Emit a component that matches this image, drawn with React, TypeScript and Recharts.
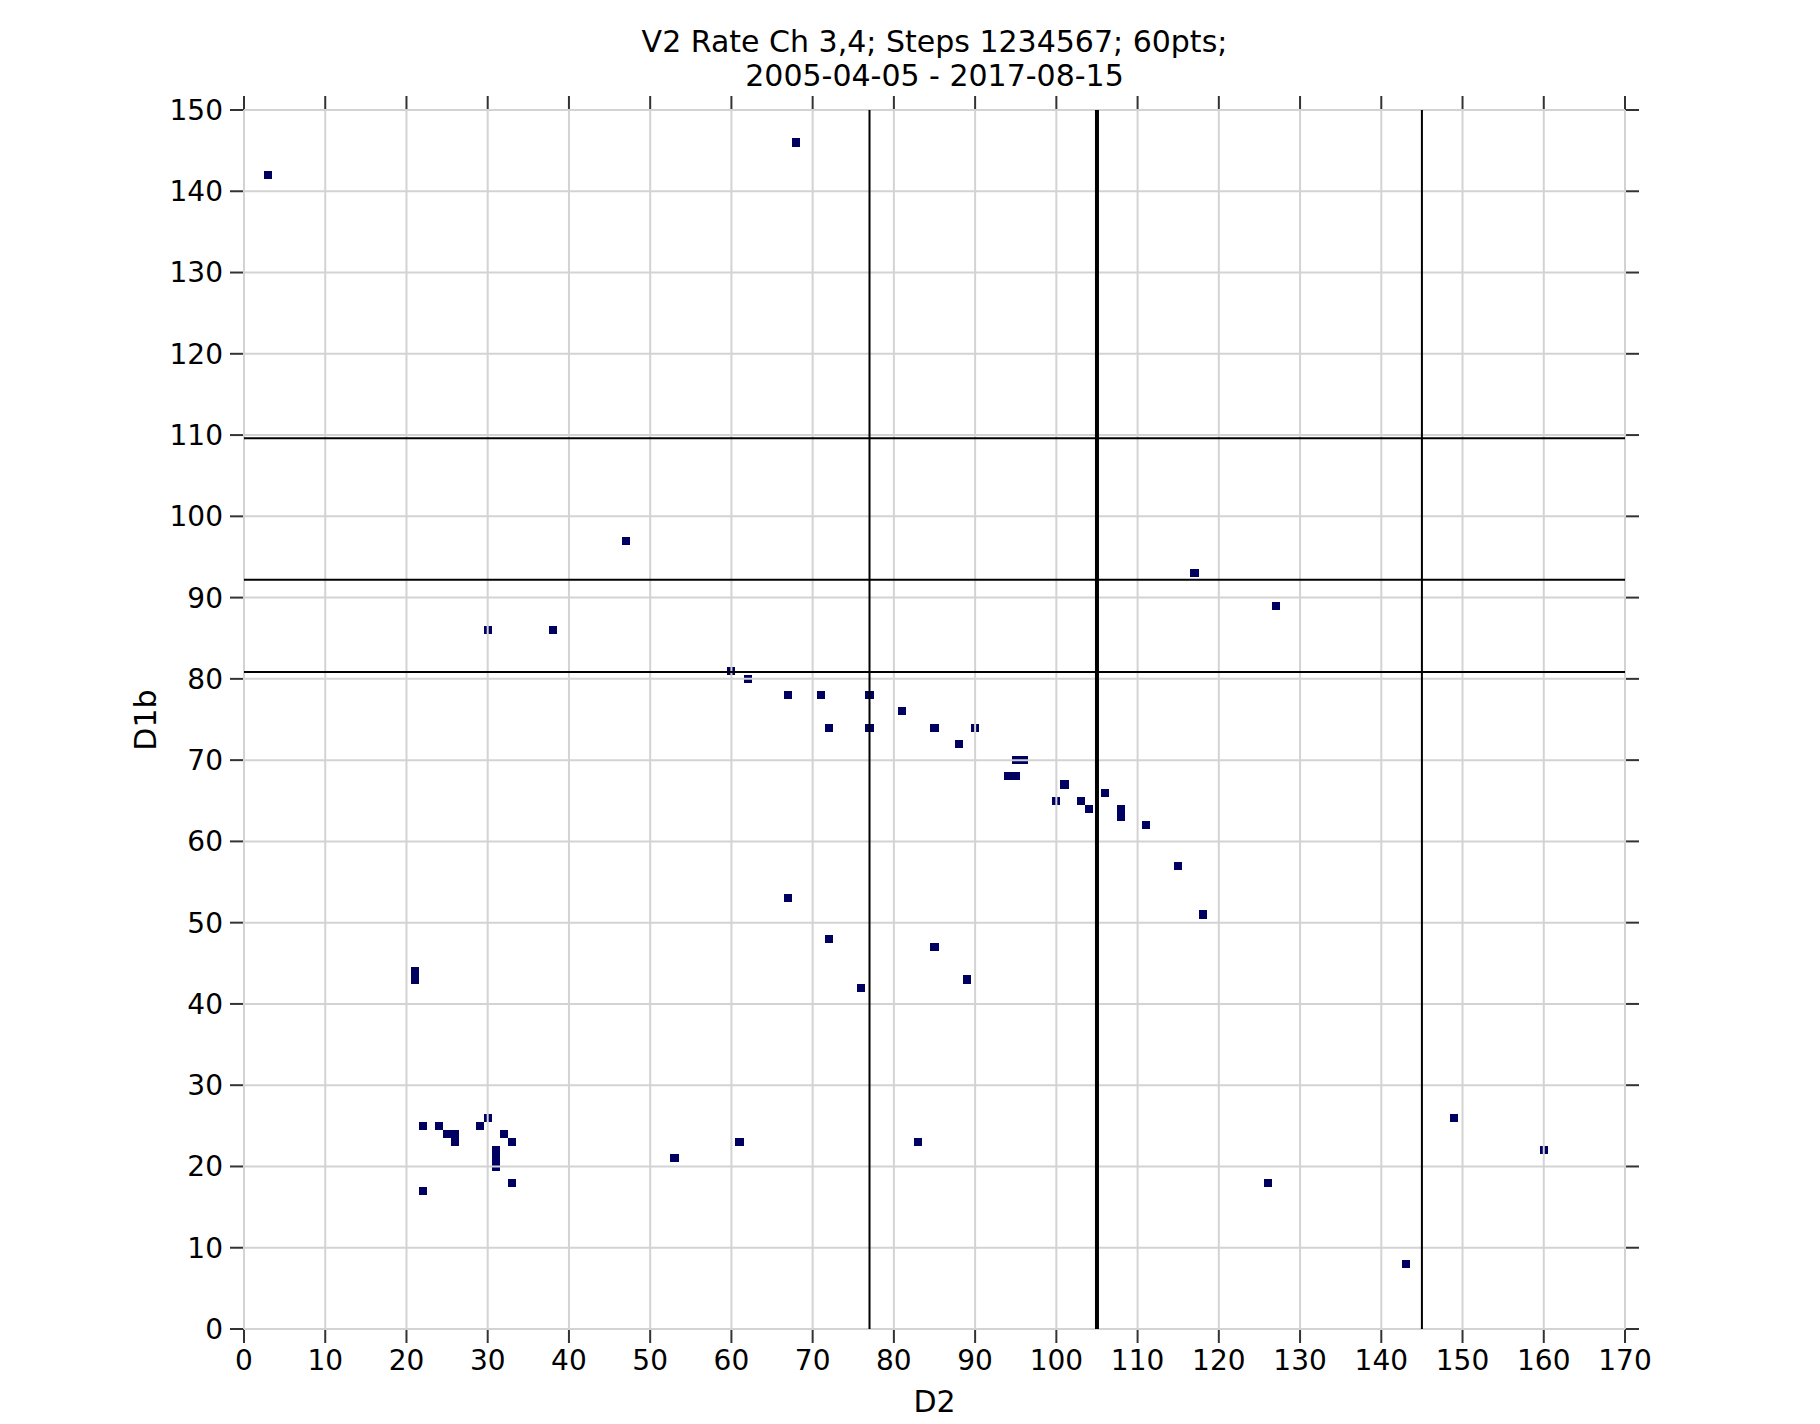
import {
  CartesianGrid,
  ReferenceLine,
  Scatter,
  ScatterChart,
  XAxis,
  YAxis,
} from 'recharts';

const d2Values = [
  3, 68, 47, 30, 38, 117, 127,
  60, 62, 67, 71, 77, 81, 72, 77, 85, 90, 88, 95, 96, 94, 95, 101, 106, 100, 103, 104, 108, 108, 111, 115, 118,
  67, 72, 85, 89, 76, 21, 21,
  22, 24, 29, 30, 25, 26, 32, 26, 33, 31, 31, 31, 33, 22,
  53, 61, 83, 126, 143, 149, 160,
];
const d1bValues = [
  142, 146, 97, 86, 86, 93, 89,
  81, 80, 78, 78, 78, 76, 74, 74, 74, 74, 72, 70, 70, 68, 68, 67, 66, 65, 65, 64, 64, 63, 62, 57, 51,
  53, 48, 47, 43, 42, 44, 43,
  25, 25, 25, 26, 24, 24, 24, 23, 23, 22, 21, 20, 18, 17,
  21, 23, 23, 18, 8, 26, 22,
];

const xTicks = [0, 10, 20, 30, 40, 50, 60, 70, 80, 90, 100, 110, 120, 130, 140, 150, 160, 170];
const yTicks = [0, 10, 20, 30, 40, 50, 60, 70, 80, 90, 100, 110, 120, 130, 140, 150];

const thinVLines = [77, 145];
const thickVLines = [105];
const hLines = [109.6, 92.2, 80.85];

const points = d2Values.map((x, i) => ({ x, y: d1bValues[i] }));

const W = 1820;
const H = 1424;
const PLOT_LEFT = 244;
const PLOT_RIGHT = 1625;
const PLOT_TOP = 110;
const PLOT_BOTTOM = 1329;
const X_MAX = 170;
const Y_MAX = 150;
const CELL_W = (PLOT_RIGHT - PLOT_LEFT) / X_MAX;
const CELL_H = (PLOT_BOTTOM - PLOT_TOP) / Y_MAX;

const FONT = 'DejaVu Sans';
const AXIS = '#333333';
const tickStyle = { fill: '#000', fontSize: 28, fontFamily: FONT };

const Cell = (props: any) => (
  <rect
    x={props.cx - CELL_W / 2}
    y={props.cy - CELL_H / 2}
    width={CELL_W}
    height={CELL_H}
    fill="#000060"
    shapeRendering="crispEdges"
  />
);

export default function App() {
  return (
    <div style={{ position: 'absolute', left: 0, top: 0, width: W, height: H, background: '#fff', fontFamily: FONT }}>
      <div
        style={{
          position: 'absolute',
          left: (PLOT_LEFT + PLOT_RIGHT) / 2 - 500,
          top: 25,
          width: 1000,
          textAlign: 'center',
          fontSize: 30,
          lineHeight: '34px',
          color: '#000',
        }}
      >
        V2 Rate Ch 3,4; Steps 1234567; 60pts;
        <br />
        2005-04-05 - 2017-08-15
      </div>
      <div
        style={{
          position: 'absolute',
          left: (PLOT_LEFT + PLOT_RIGHT) / 2 - 100,
          top: 1385,
          width: 200,
          textAlign: 'center',
          fontSize: 30,
          lineHeight: '34px',
          color: '#000',
        }}
      >
        D2
      </div>
      <div
        style={{
          position: 'absolute',
          left: 146 - 100,
          top: (PLOT_TOP + PLOT_BOTTOM) / 2 - 17,
          width: 200,
          textAlign: 'center',
          fontSize: 30,
          lineHeight: '34px',
          color: '#000',
          transform: 'rotate(-90deg)',
        }}
      >
        D1b
      </div>
      <ScatterChart
        width={W}
        height={H}
        margin={{ top: PLOT_TOP - 20, right: W - PLOT_RIGHT - 30, bottom: H - PLOT_BOTTOM - 60, left: PLOT_LEFT - 80 }}
      >
        <XAxis
          type="number"
          dataKey="x"
          domain={[0, X_MAX]}
          ticks={xTicks}
          interval={0}
          height={60}
          tickSize={14}
          tickMargin={7}
          tick={tickStyle}
          tickLine={{ stroke: AXIS, strokeWidth: 2 }}
          axisLine={{ stroke: AXIS, strokeWidth: 2 }}
          allowDataOverflow
        />
        <XAxis
          xAxisId="top"
          orientation="top"
          type="number"
          dataKey="x"
          domain={[0, X_MAX]}
          ticks={xTicks}
          interval={0}
          height={20}
          tickSize={14}
          tickFormatter={() => ''}
          tickLine={{ stroke: AXIS, strokeWidth: 2 }}
          axisLine={{ stroke: AXIS, strokeWidth: 2 }}
          allowDataOverflow
        />
        <YAxis
          type="number"
          dataKey="y"
          domain={[0, Y_MAX]}
          ticks={yTicks}
          interval={0}
          width={80}
          tickSize={14}
          tickMargin={7}
          tick={tickStyle}
          tickLine={{ stroke: AXIS, strokeWidth: 2 }}
          axisLine={{ stroke: AXIS, strokeWidth: 2 }}
          allowDataOverflow
        />
        <YAxis
          yAxisId="right"
          orientation="right"
          type="number"
          dataKey="y"
          domain={[0, Y_MAX]}
          ticks={yTicks}
          interval={0}
          width={30}
          tickSize={14}
          tickFormatter={() => ''}
          tickLine={{ stroke: AXIS, strokeWidth: 2 }}
          axisLine={{ stroke: AXIS, strokeWidth: 2 }}
          allowDataOverflow
        />
        <Scatter data={points} shape={Cell} isAnimationActive={false} />
        <CartesianGrid stroke="#d3d3d3" strokeWidth={2} zIndex={700} />
        {hLines.map((v) => (
          <ReferenceLine key={`h${v}`} y={v} stroke="#000" strokeWidth={2} zIndex={800} />
        ))}
        {thinVLines.map((v) => (
          <ReferenceLine key={`v${v}`} x={v} stroke="#000" strokeWidth={2} zIndex={800} />
        ))}
        {thickVLines.map((v) => (
          <ReferenceLine key={`t${v}`} x={v} stroke="#000" strokeWidth={4} zIndex={800} />
        ))}
      </ScatterChart>
    </div>
  );
}
